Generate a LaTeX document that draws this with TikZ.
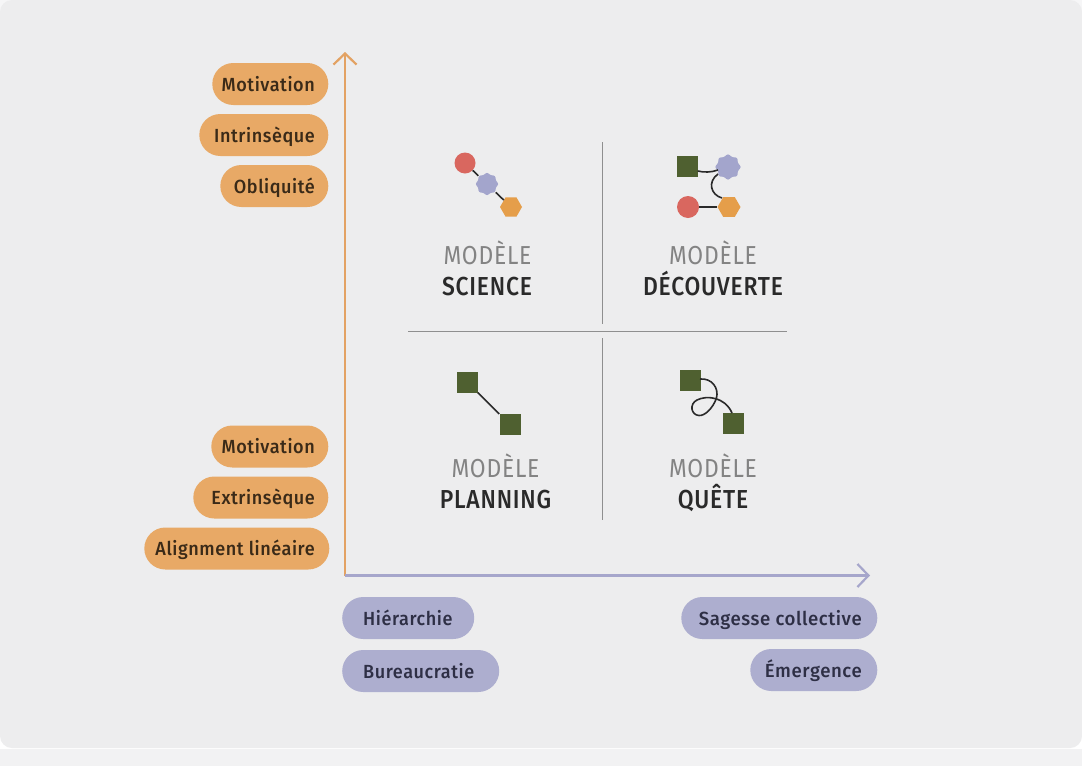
\documentclass[tikz,border=0pt]{standalone}
\usepackage{fontspec}
\usepackage{tikz}
\usetikzlibrary{arrows.meta,shapes.geometric}
\setmainfont{Fira Sans}
\newfontfamily\pillfont[FakeStretch=0.95,LetterSpace=3]{Fira Sans Medium}
\newfontfamily\pillwide[FakeStretch=0.98,LetterSpace=3]{Fira Sans Medium}
\newfontfamily\headfont[FakeStretch=0.88,LetterSpace=3]{Fira Sans}
\newfontfamily\headfontm[FakeStretch=0.88,LetterSpace=3]{Fira Sans Medium}
\definecolor{panel}{HTML}{EDEDEE}
\definecolor{band}{HTML}{F2F2F3}
\definecolor{corner}{HTML}{F6F6F7}
\definecolor{pillorange}{HTML}{E8A966}
\definecolor{pillpurple}{HTML}{ADAECF}
\definecolor{axisorange}{HTML}{E3A263}
\definecolor{axispurple}{HTML}{A6A6CB}
\definecolor{moss}{HTML}{4F6030}
\definecolor{coral}{HTML}{D9675F}
\definecolor{amber}{HTML}{E59E4A}
\definecolor{lilac}{HTML}{A3A5CC}
\definecolor{ink}{HTML}{2A2A2A}
\definecolor{inkbrown}{HTML}{3A2A18}
\definecolor{inkslate}{HTML}{2E2F45}
\definecolor{gristext}{HTML}{838383}
\definecolor{rulegray}{HTML}{8F8F8F}
\tikzset{
  pill/.style={rounded corners=21pt,minimum height=42pt,inner xsep=0pt,inner ysep=0pt,font=\pillfont\fontsize{19}{21}\selectfont,text height=14pt,text depth=0pt},
  pillo/.style={pill,fill=pillorange,text=inkbrown,anchor=east,minimum width=#1},
  pillp/.style={pill,fill=pillpurple,text=inkslate,minimum width=#1},
  sq/.style={draw=none,fill=moss,minimum size=21pt,inner sep=0pt},
  disc/.style={circle,draw=none,fill=coral,minimum size=#1,inner sep=0pt},
  hexa/.style={regular polygon,regular polygon sides=6,draw=none,fill=amber,minimum size=#1,inner sep=0pt},
  flower/.style={star,star points=8,star point ratio=1.3,rounded corners=2.2pt,draw=none,fill=lilac,minimum size=#1,inner sep=0pt},
  wire/.style={draw=ink,line width=1.6pt},
  divider/.style={draw=rulegray,line width=0.9pt},
  axis/.style={line width=2.4pt,-{Straight Barb[length=11pt,width=23pt,line width=2.2pt]}},
  kind/.style={font=\headfont\fontsize{26}{28}\selectfont,text=gristext,inner sep=0pt,text height=18pt,text depth=0pt},
  model/.style={font=\headfontm\fontsize{26}{28}\selectfont,text=ink,inner sep=0pt,text height=18pt,text depth=0pt},
}
\begin{document}
\begin{tikzpicture}[x=1pt,y=-1pt]
\useasboundingbox (0,0) rectangle (1082,766);
\fill[white] (0,0) rectangle (1082,766);
\fill[corner] (0,0) rectangle (1082,30);
\fill[band] (0,749) rectangle (1082,766);
\fill[panel,rounded corners=12pt] (0,0) rectangle (1082,748);
% dividers
\coordinate (vt1) at (602,142); \coordinate (vb1) at (602,324);
\coordinate (vt2) at (602,338); \coordinate (vb2) at (602,520);
\coordinate (hl) at (408,331); \coordinate (hr) at (787,331);
\draw[divider] (vt1) -- (vb1);
\draw[divider] (vt2) -- (vb2);
\draw[divider] (hl) -- (hr);
% axes
\coordinate (origin) at (345,575.5);
\coordinate (ytop) at (345,52);
\coordinate (xend) at (870,575.5);
\draw[axis,draw=axisorange] (origin) -- (ytop);
\draw[axis,draw=axispurple] (origin) -- (xend);
% orange pills
\node[pillo=116pt] (p1) at (328.5,84) {\hbox to 116pt{\hss Motivation\hskip 13.5pt}};
\node[pillo=129pt] (p2) at (328.5,135) {\hbox to 129pt{\hss Intrinsèque\hskip 13.5pt}};
\node[pillo=108pt] (p3) at (328.5,186) {\hbox to 108pt{\hss Obliquité\hskip 13.5pt}};
\node[pillo=117pt] (p4) at (328.5,446.5) {\hbox to 117pt{\hss Motivation\hskip 13.5pt}};
\node[pillo=135pt] (p5) at (328.5,497.5) {\hbox to 135pt{\hss Extrinsèque\hskip 13.5pt}};
\node[pillo=185pt] (p6) at (329.5,548.5) {\hbox to 185pt{\hss Alignment linéaire\hskip 14.5pt}};
% purple pills
\node[pillp=132pt,anchor=west] (q1) at (342,618) {\hbox to 132pt{\hskip 21pt Hiérarchie\hss}};
\node[pillp=157pt,anchor=west] (q2) at (342,671) {\hbox to 157pt{\hskip 21pt Bureaucratie\hss}};
\node[pillp=196pt,anchor=east] (q3) at (877.5,618) {\hbox to 196pt{\hss\pillwide Sagesse collective\hskip 15.5pt}};
\node[pillp=127pt,anchor=east] (q4) at (877.5,670) {\hbox to 127pt{\hss\pillwide Émergence\hskip 15.5pt}};
% Science
\node[disc=21pt] (s1) at (465,163) {};
\node[flower=24pt] (s2) at (487,184) {};
\node[hexa=22pt] (s3) at (511,207) {};
\draw[wire] (s1) -- (s2);
\draw[wire] (s2) -- (s3);
\node[kind] (s4) at (487.5,255) {MODÈLE};
\node[model] (s5) at (487,286) {SCIENCE};
% Decouverte
\node[sq] (d1) at (687,166) {};
\node[flower=27pt] (d2) at (728,167) {};
\node[disc=22pt] (d3) at (688,207) {};
\node[hexa=23pt] (d4) at (729,207) {};
\draw[wire] (d3) -- (d4);
\draw[wire] (d1.east |- d2.center) ++(0,4) .. controls (704,172.5) and (711,172.5) .. (718,170);
\draw[wire] (718,174) .. controls (707,182) and (711,195) .. (722,198);
\node[kind] (d5) at (713,255) {MODÈLE};
\node[model] (d6) at (713,286) {DÉCOUVERTE};
% Planning
\node[sq] (l1) at (467,382) {};
\node[sq] (l2) at (510,424.5) {};
\draw[wire] (l1) -- (l2);
\node[kind] (l3) at (495.5,468) {MODÈLE};
\node[model] (l4) at (495.5,499) {PLANNING};
% Quete
\node[sq] (u1) at (690.5,380.5) {};
\node[sq] (u2) at (733.5,423) {};
\draw[wire] (700,379) .. controls (712,378) and (719,388) .. (716.5,398)
  .. controls (713,408) and (705,416) .. (699,415.5)
  .. controls (691,415) and (689,404) .. (697,400)
  .. controls (707,395) and (725,397) .. (732,413);
\node[kind] (u3) at (713,468) {MODÈLE};
\node[model] (u4) at (713,499) {QUÊTE};
\end{tikzpicture}
\end{document}
